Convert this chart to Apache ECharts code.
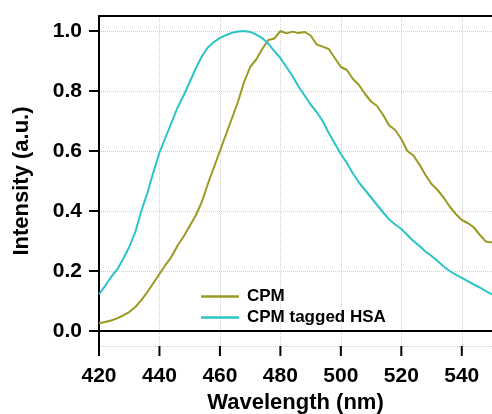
<!DOCTYPE html>
<html>
<head>
<meta charset="utf-8">
<script src="https://cdn.jsdelivr.net/npm/echarts@6/dist/echarts.min.js"></script>
<style>
html,body{margin:0;padding:0;background:#fff;}
#chart{width:492px;height:414px;}
</style>
</head>
<body>
<div id="chart"></div>
<script>
var wavelengths = [420,422,424,426,428,430,432,434,436,438,440,442,444,446,448,450,452,454,456,458,460,462,464,466,468,470,472,474,476,478,480,482,484,486,488,490,492,494,496,498,500,502,504,506,508,510,512,514,516,518,520,522,524,526,528,530,532,534,536,538,540,542,544,546,548,550];
var cpm = [0.026,0.030,0.035,0.042,0.052,0.063,0.080,0.103,0.130,0.160,0.190,0.220,0.248,0.285,0.315,0.350,0.385,0.430,0.490,0.545,0.600,0.655,0.710,0.765,0.830,0.880,0.905,0.940,0.970,0.975,1.000,0.992,0.998,0.993,0.997,0.985,0.955,0.948,0.940,0.910,0.880,0.870,0.840,0.820,0.790,0.765,0.750,0.720,0.685,0.670,0.640,0.600,0.585,0.555,0.520,0.490,0.470,0.445,0.415,0.390,0.370,0.360,0.345,0.320,0.298,0.295];
var cpmHsa = [0.122,0.150,0.180,0.205,0.240,0.280,0.330,0.400,0.460,0.530,0.595,0.645,0.695,0.745,0.785,0.830,0.875,0.915,0.945,0.963,0.977,0.986,0.994,0.998,1.000,0.997,0.988,0.976,0.958,0.933,0.910,0.880,0.850,0.815,0.785,0.755,0.730,0.700,0.660,0.625,0.590,0.560,0.525,0.495,0.470,0.445,0.420,0.395,0.372,0.355,0.340,0.320,0.300,0.283,0.265,0.250,0.233,0.215,0.200,0.188,0.177,0.166,0.155,0.145,0.133,0.122];
var xTicks = [420,440,460,480,500,520,540];
var yTicks = [0,0.2,0.4,0.6,0.8,1.0];
var seriesNames = ['CPM','CPM tagged HSA'];

function pairs(xs, ys){ return xs.map(function(x,i){ return [x, ys[i]]; }); }

var font = '"Liberation Sans", Arial, sans-serif';
var X_MIN = 420, X_MAX = 550, Y_MIN = -0.05, Y_MAX = 1.05, TICK_LEN = 10;
var chart = echarts.init(document.getElementById('chart'), null, {renderer:'canvas'});
chart.setOption({
  animation: false,
  backgroundColor: '#fff',
  grid: {left: 99, right: 0, top: 16, bottom: 68, containLabel: false, outerBoundsMode: 'none'},
  legend: {
    orient: 'vertical', left: 196, top: 283,
    icon: 'rect', itemWidth: 38, itemHeight: 2.5, itemGap: 4,
    textStyle: {fontFamily: font, fontWeight: 'bold', fontSize: 17, color: '#000', lineHeight: 17, padding: [0,0,0,3]},
    data: seriesNames
  },
  xAxis: [{
    type: 'value', min: X_MIN, max: X_MAX, interval: 20,
    name: 'Wavelength (nm)', nameLocation: 'middle', nameGap: 44,
    nameTextStyle: {fontFamily: font, fontWeight: 'bold', fontSize: 22, color: '#000'},
    axisLine: {show: true, lineStyle: {color: '#000', width: 2}},
    axisTick: {show: false},
    axisLabel: {margin: 20, fontFamily: font, fontWeight: 'bold', fontSize: 21, color: '#000', customValues: xTicks},
    splitLine: {show: true, lineStyle: {color: '#cfcfcf', type: 'dotted', width: 1}}
  },{
    type: 'value', position: 'top', min: X_MIN, max: X_MAX,
    axisLine: {show: true, onZero: false, lineStyle: {color: '#000', width: 2}},
    axisTick: {show: false}, axisLabel: {show: false}, splitLine: {show: false}
  }],
  yAxis: {
    type: 'value', min: Y_MIN, max: Y_MAX, splitNumber: 5,
    name: 'Intensity (a.u.)', nameLocation: 'middle', nameGap: 66,
    nameTextStyle: {fontFamily: font, fontWeight: 'bold', fontSize: 22, color: '#000'},
    axisLine: {show: true, onZero: false, lineStyle: {color: '#000', width: 2}},
    axisTick: {show: false},
    axisLabel: {margin: 17, fontFamily: font, fontWeight: 'bold', fontSize: 21, color: '#000',
      customValues: yTicks,
      formatter: function(v){ return Number(v).toFixed(1); }},
    splitLine: {show: true, lineStyle: {color: '#cfcfcf', type: 'dotted', width: 1}}
  },
  series: [{
    name: seriesNames[0], type: 'line', data: pairs(wavelengths, cpm),
    showSymbol: false, symbol: 'none', smooth: false,
    lineStyle: {color: '#9a9a22', width: 2}, itemStyle: {color: '#9a9a22'}
  },{
    name: seriesNames[1], type: 'line', data: pairs(wavelengths, cpmHsa),
    showSymbol: false, symbol: 'none', smooth: false,
    lineStyle: {color: '#2cc3c7', width: 2}, itemStyle: {color: '#2cc3c7'}
  }]
});

// Axis ticks placed through the library's own scales
var xLeft = chart.convertToPixel({xAxisIndex: 0}, X_MIN);
var yBottom = chart.convertToPixel({yAxisIndex: 0}, Y_MIN);
var tickEls = [];
xTicks.forEach(function(v){
  var px = chart.convertToPixel({xAxisIndex: 0}, v);
  tickEls.push({type: 'line', shape: {x1: px, y1: yBottom, x2: px, y2: yBottom + TICK_LEN},
    style: {stroke: '#000', lineWidth: 2}, z: 10});
});
yTicks.forEach(function(v){
  var py = chart.convertToPixel({yAxisIndex: 0}, v);
  tickEls.push({type: 'line', shape: {x1: xLeft - TICK_LEN, y1: py, x2: xLeft, y2: py},
    style: {stroke: '#000', lineWidth: 2}, z: 10});
});
chart.setOption({graphic: tickEls});
</script>
</body>
</html>
